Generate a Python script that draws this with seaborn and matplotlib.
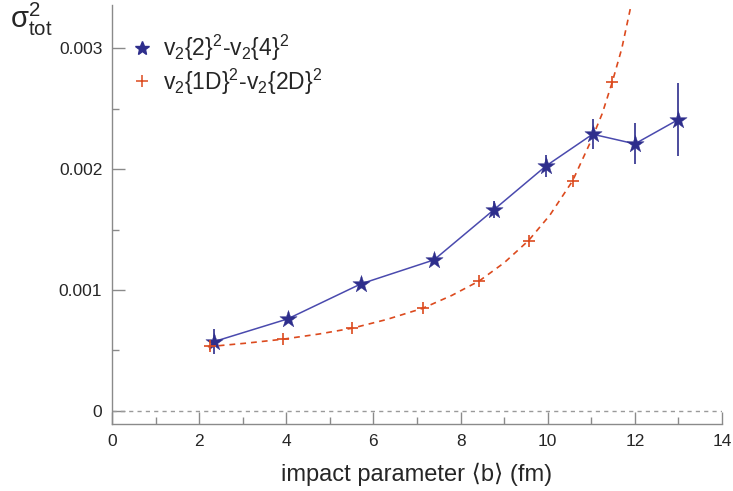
import numpy as np
import pandas as pd
import matplotlib
matplotlib.use("Agg")
import matplotlib.pyplot as plt
from matplotlib.lines import Line2D
from matplotlib.ticker import MultipleLocator
import seaborn as sns

# v2{2}^2 - v2{4}^2 (blue stars with errors)
b_cum = [2.34, 4.03, 5.71, 7.39, 8.76, 9.96, 11.03, 12.0, 12.99]
sig_cum = [0.000572, 0.00076, 0.00105, 0.001249, 0.001663, 0.002027, 0.00229, 0.00221, 0.00241]
err_cum = [0.000102, 0.00003, 0.00003, 0.00003, 0.00007, 0.00009, 0.000123, 0.00017, 0.0003]

# v2{1D}^2 - v2{2D}^2 (orange crosses)
b_d = [2.26, 3.92, 5.51, 7.13, 8.43, 9.56, 10.57, 11.48]
sig_d = [0.000536, 0.000592, 0.000683, 0.000848, 0.001075, 0.001409, 0.001903, 0.00272]

# dashed fit curve
curve_b = [2.2, 3.1, 3.92, 4.75, 5.51, 6.3, 7.13, 7.8, 8.43, 9.0, 9.56,
           10.05, 10.57, 11.0, 11.25, 11.48, 11.7, 11.92]
curve_sig = [0.00053, 0.00056, 0.000592, 0.000635, 0.000683, 0.000755, 0.000848,
             0.000955, 0.001075, 0.001225, 0.001409, 0.00162, 0.001903,
             0.00224, 0.00246, 0.00272, 0.0030, 0.00337]

blue = "#2e2e8c"
blue_line = "#4a4aae"
orange = "#dc4a1e"

sns.set_style("ticks")
plt.rcParams["font.family"] = ["Liberation Sans", "DejaVu Sans"]
plt.rcParams["mathtext.fontset"] = "custom"
plt.rcParams["mathtext.rm"] = "Liberation Sans"
plt.rcParams["mathtext.it"] = "Liberation Sans:italic"
plt.rcParams["mathtext.bf"] = "Liberation Sans:bold"

fig = plt.figure(figsize=(7.33, 4.91), dpi=100)
ax = fig.add_axes([0.1528, 0.1365, 0.8322, 0.8533])

df_cum = pd.DataFrame({"b": b_cum, "sig": sig_cum})
df_curve = pd.DataFrame({"b": curve_b, "sig": curve_sig})

ax.axhline(0, color="#9a9a9a", lw=1, ls=(0, (3, 3)), zorder=1)

sns.lineplot(data=df_curve, x="b", y="sig", ax=ax, color=orange, lw=1.2,
             linestyle=(0, (3.5, 3)), zorder=2)
sns.lineplot(data=df_cum, x="b", y="sig", ax=ax, color=blue_line, lw=1.1, zorder=3)
ax.errorbar(b_cum, sig_cum, yerr=err_cum, fmt="none", ecolor=blue, elinewidth=1.2, zorder=4)
sns.scatterplot(data=df_cum, x="b", y="sig", ax=ax, marker="*", s=170, color=blue,
                edgecolor=blue, linewidth=0.3, zorder=5)
ax.plot(b_d, sig_d, "+", color=orange, ms=8, mew=1.2, zorder=5)

ax.set_xlim(0, 14)
ax.set_ylim(-0.00011, 0.00336)
ax.xaxis.set_minor_locator(MultipleLocator(1))
ax.yaxis.set_minor_locator(MultipleLocator(0.0005))
ax.set_yticks([0, 0.001, 0.002, 0.003])
ax.set_yticklabels(["0", "0.001", "0.002", "0.003"])
ax.set_xticks(range(0, 15, 2))
ax.set_xticklabels([str(v) for v in range(0, 15, 2)])

ax.tick_params(which="major", direction="in", length=9, width=1, color="#8a8a8a",
               labelsize=12.5, pad=7)
ax.tick_params(which="minor", direction="in", length=5, width=1, color="#8a8a8a")
sns.despine(ax=ax)
for s in ["left", "bottom"]:
    ax.spines[s].set_color("#8a8a8a")
    ax.spines[s].set_linewidth(1)

ax.set_xlabel(r"impact parameter ⟨b⟩ (fm)", fontsize=17, labelpad=10)
ax.set_ylabel("")
fig.text(0.014, 0.942, r"σ$^{2}_{\mathrm{tot}}$", fontsize=21, va="baseline")

handles = [
    Line2D([], [], ls="none", marker="*", ms=10, color=blue),
    Line2D([], [], ls="none", marker="+", ms=8, mew=1.1, color=orange),
]
labels = [r"v$_2${2}$^2$-v$_2${4}$^2$", r"v$_2${1D}$^2$-v$_2${2D}$^2$"]
ax.legend(handles, labels, loc="upper left", bbox_to_anchor=(-0.005, 0.972),
          frameon=False, fontsize=16.5, handletextpad=0.15, handlelength=1.5,
          labelspacing=0.15, borderaxespad=0.3)

fig.savefig("out.png", dpi=100)
